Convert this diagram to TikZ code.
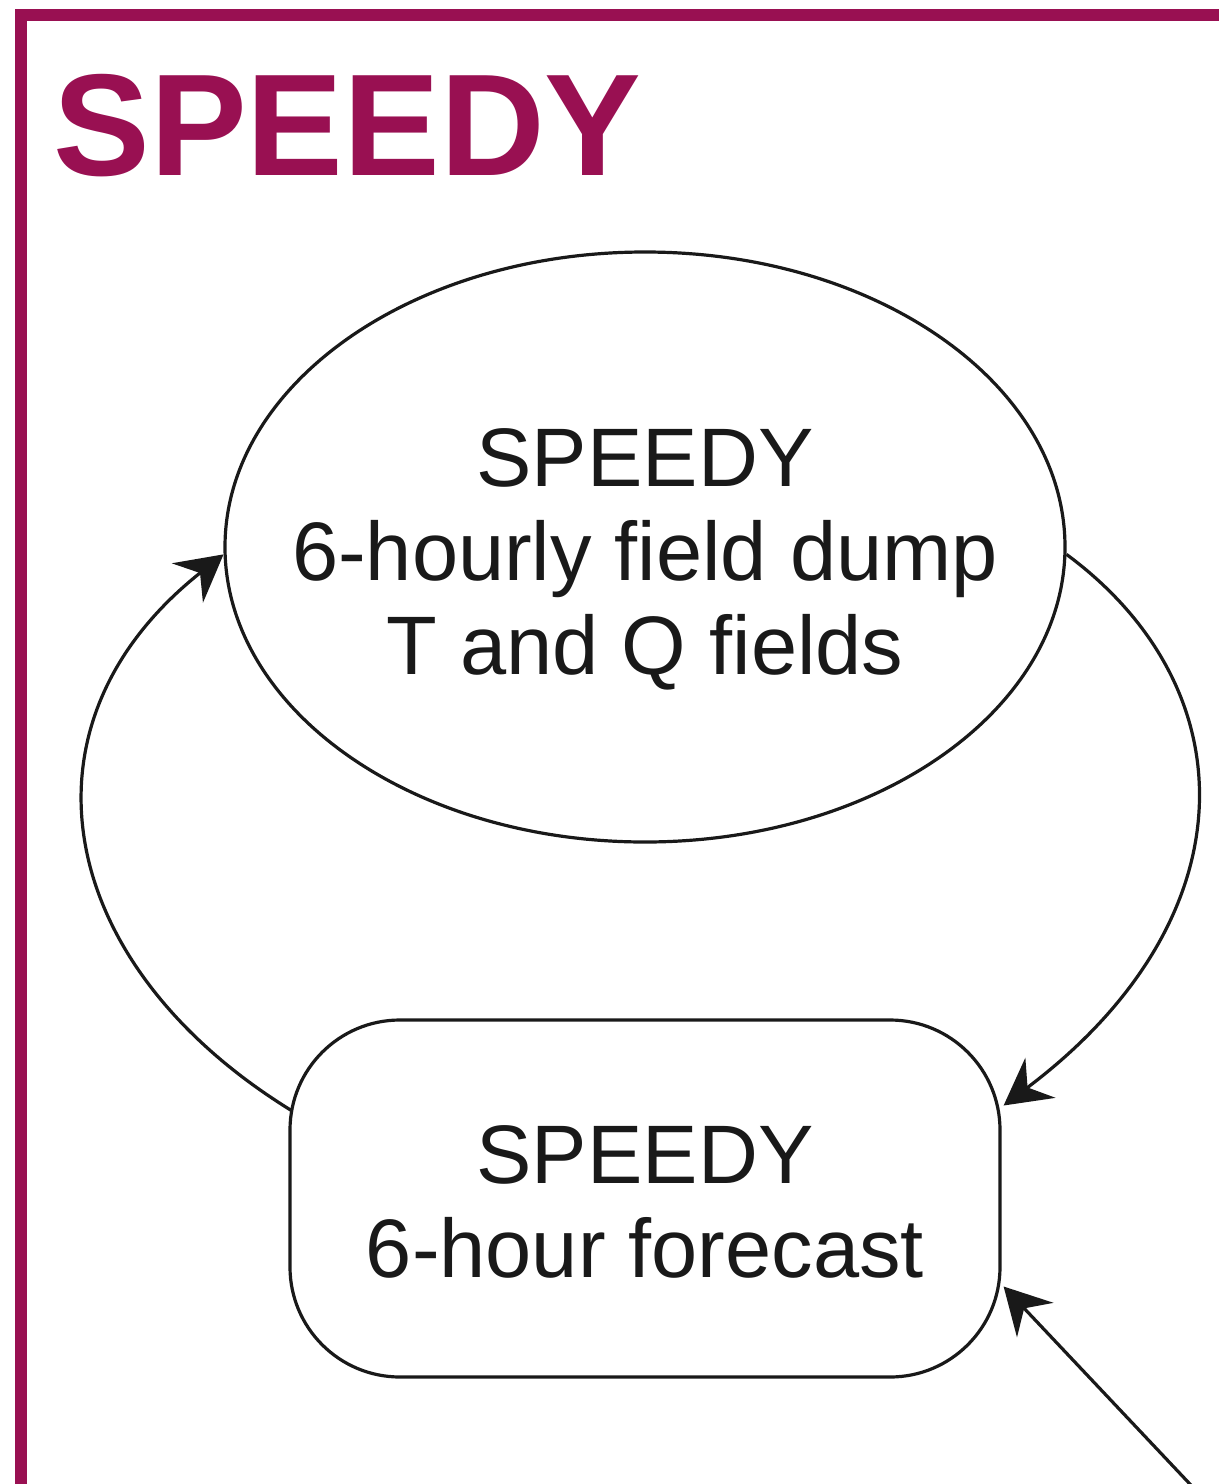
\documentclass[tikz,border=0pt]{standalone}
\usepackage{fontspec}
\setmainfont{Liberation Sans}
\usetikzlibrary{shapes.geometric,arrows.meta}
\definecolor{speedyred}{RGB}{153,16,82}
\begin{document}
\begin{tikzpicture}[x=0.5pt,y=-0.5pt,
  lbl/.style={font=\fontsize{41.5}{47}\selectfont, align=center, text=black!90, inner sep=0pt},
  link/.style={line width=1.6pt, draw=black!90, -{Stealth[length=23pt,width=25pt,inset=8pt]}},
  shapeline/.style={draw=black!90, line width=1.6pt},
]
\useasboundingbox (0,0) rectangle (1219,1484);

% frame of the SPEEDY panel, running on past the picture edges
\begin{scope}
  \clip (0,0) rectangle (1219,1484);
  \draw[speedyred, line width=6pt] (21,1600) -- (21,15) -- (1400,15);
\end{scope}

\node[anchor=base west, inner sep=0pt, text=speedyred,
      font=\fontsize{72.5}{80}\selectfont\bfseries] (title) at (53,175) {SPEEDY};

% field dump ellipse
\node[ellipse, shapeline, minimum width=420pt, minimum height=295pt, inner sep=0pt]
  (dump) at (645,547) {};
\node[lbl] (dumptext) at ([yshift=-6pt]dump.center)
  {SPEEDY\\6-hourly field dump\\T and Q fields};

% forecast box
\node[rectangle, shapeline, rounded corners=55pt, minimum width=355pt,
      minimum height=178.5pt] (fc) at (645,1198.5) {};
\node[lbl] (fctext) at ([yshift=-1.5pt]fc.center) {SPEEDY\\6-hour forecast};

\coordinate (src) at (1205,1500);

% cycle connectors
\begin{scope}
  \clip (0,0) rectangle (1219,1484);
  \draw[link] (dump.-1) .. controls (1250,690) and (1250,920) ..
    ([xshift=1pt,yshift=46.5pt]fc.east);
  \draw[link] ([xshift=1.5pt,yshift=44pt]fc.west) .. controls (55,965) and (8,725) ..
    (dump.181);
  \draw[link] (src) -- ([xshift=1pt,yshift=-44pt]fc.east);
\end{scope}
\end{tikzpicture}
\end{document}
